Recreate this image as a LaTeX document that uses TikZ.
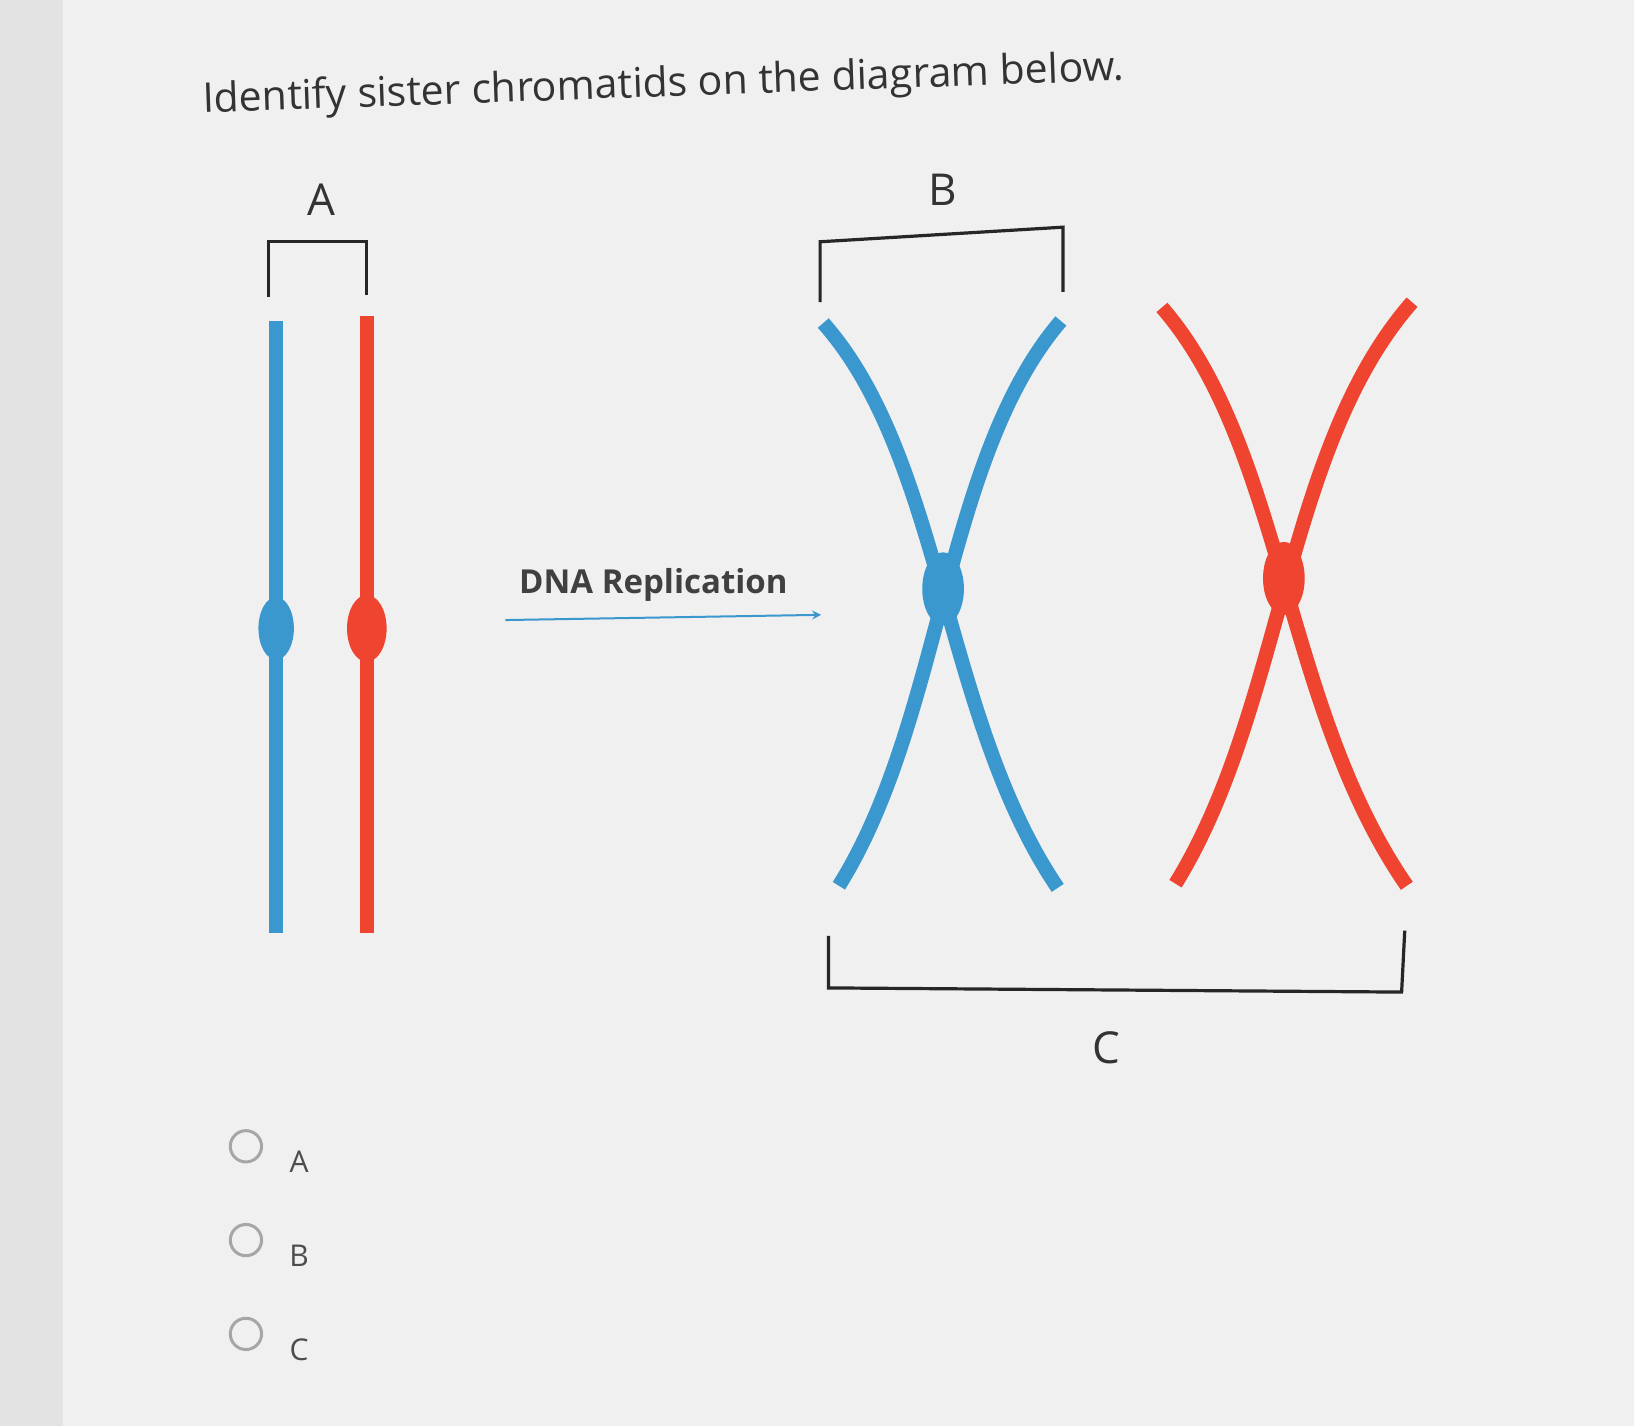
\documentclass[tikz,border=0pt]{standalone}
\usepackage{fontspec}
\setmainfont{Open Sans}
\begin{document}
\begin{tikzpicture}[x=0.521pt,y=-0.521pt,
  chrom/.style={line width=7.2pt},
  brk/.style={line width=1.6pt,black!85},
  lbl/.style={font=\fontsize{22}{24}\selectfont,text=black!80},
  opt/.style={font=\fontsize{15}{17}\selectfont,text=black!70}]
\definecolor{cblue}{HTML}{3A98CE}
\definecolor{cred}{HTML}{EE4430}
\useasboundingbox (0,0) rectangle (1568,1368);
\fill[gray!12] (0,0) rectangle (1568,1368);
\fill[gray!22] (0,0) rectangle (60,1368);
\node[font=\fontsize{20.5}{24}\selectfont,text=black!80,anchor=west,rotate=2] (title) at (188,98) {Identify sister chromatids on the diagram below.};
% A
\draw[chrom,cblue] (265,308) -- (265,895);
\fill[cblue] (265,603) ellipse (17 and 30);
\draw[chrom,cred] (352,303) -- (352,895);
\fill[cred] (352,603) ellipse (19 and 32);
\draw[brk] (258,285) -- (258,232) -- (352,232) -- (352,283);
\node[lbl] (la) at (308,192) {A};
% B
\node[lbl] (lb) at (905,182) {B};
\draw[brk] (787,290) -- (787,232) -- (1020,218) -- (1020,280);
\draw[chrom,cblue] (790,310) .. controls (905,440) and (905,690) .. (1015,852);
\draw[chrom,cblue] (1018,308) .. controls (905,440) and (905,690) .. (805,850);
\fill[cblue] (905,565) ellipse (20 and 35);
\draw[chrom,cred] (1115,295) .. controls (1232,430) and (1232,680) .. (1350,850);
\draw[chrom,cred] (1355,290) .. controls (1232,430) and (1232,680) .. (1128,848);
\fill[cred] (1232,555) ellipse (20 and 35);
% arrow
\node[font=\bfseries\fontsize{16.5}{18}\selectfont,text=black!75] (dna) at (627,561) {DNA Replication};
\coordinate (a1) at (485,595); \coordinate (a2) at (788,590);
\draw[cblue,line width=1pt,-stealth] (a1) -- (a2);
% C
\draw[brk] (795,898) -- (795,948) -- (1345,952) -- (1348,893);
\node[lbl] (lc) at (1062,1005) {C};
% options
\foreach \y/\t in {1100/A,1190/B,1280/C}{
  \draw[gray!70,line width=1.5pt] (236,\y) circle (15);
  \node[opt] at (287,\y+15) {\t};
}
\end{tikzpicture}
\end{document}
